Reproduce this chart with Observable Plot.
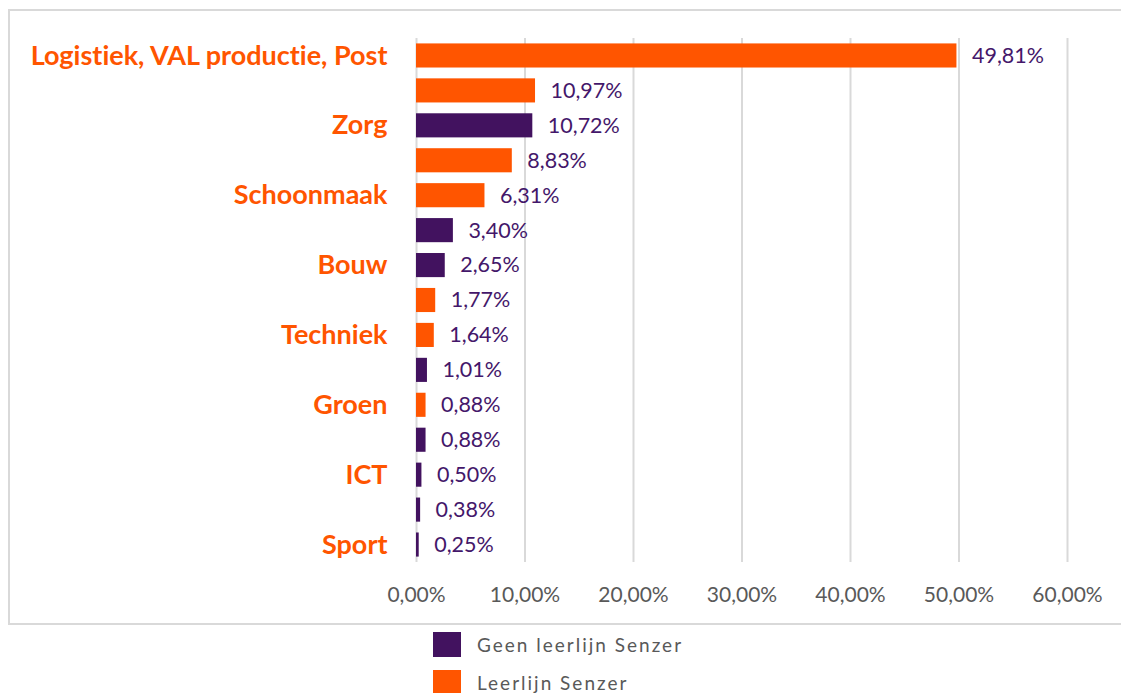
<!DOCTYPE html>
<html>
<head>
<meta charset="utf-8">
<script src="https://cdn.jsdelivr.net/npm/d3@7"></script>
<script src="https://cdn.jsdelivr.net/npm/@observablehq/plot@0.6"></script>
<style>
  html, body { margin: 0; padding: 0; background: #fff; overflow: hidden; }
  body { width: 1121px; height: 693px; position: relative; font-family: Lato, "Open Sans", sans-serif; font-variant-ligatures: none; }
  svg text { font-variant-ligatures: none; font-feature-settings: "liga" 0, "clig" 0; }
  #frame { position: absolute; left: 8px; top: 9px; width: 1140px; height: 616px; border: 2px solid #d9d9d9; box-sizing: border-box; }
  #chart { position: absolute; left: 0; top: 0; }
  #legend { position: absolute; left: 433px; top: 632px; font-size: 19px; color: #595959; letter-spacing: 2px; }
  .item { display: flex; align-items: center; height: 25px; margin-bottom: 13px; }
  .sw { width: 28px; height: 25px; margin-right: 16px; flex: none; }
</style>
</head>
<body>
<div id="frame"></div>
<div id="chart"></div>
<div id="legend"></div>
<script>
const tickLabels = ["Logistiek, VAL productie, Post", "", "Zorg", "", "Schoonmaak", "", "Bouw", "", "Techniek", "", "Groen", "", "ICT", "", "Sport"];
const values = [49.81, 10.97, 10.72, 8.83, 6.31, 3.40, 2.65, 1.77, 1.64, 1.01, 0.88, 0.88, 0.50, 0.38, 0.25];
const seriesOf = ["Leerlijn Senzer", "Leerlijn Senzer", "Geen leerlijn Senzer", "Leerlijn Senzer", "Leerlijn Senzer",
  "Geen leerlijn Senzer", "Geen leerlijn Senzer", "Leerlijn Senzer", "Leerlijn Senzer", "Geen leerlijn Senzer",
  "Leerlijn Senzer", "Geen leerlijn Senzer", "Geen leerlijn Senzer", "Geen leerlijn Senzer", "Geen leerlijn Senzer"];
const seriesNames = ["Geen leerlijn Senzer", "Leerlijn Senzer"];
const seriesColors = ["#42125f", "#ff5500"];
const xTicks = [0, 10, 20, 30, 40, 50, 60];

const data = values.map((v, i) => ({idx: i, value: v, series: seriesOf[i]}));
const fmt = d => d.toFixed(2).replace(".", ",") + "%";

const chart = Plot.plot({
  width: 1121,
  height: 625,
  marginLeft: 416,
  marginRight: 54,
  marginTop: 38,
  marginBottom: 63,
  style: {fontFamily: "Lato, 'Open Sans', sans-serif", background: "transparent"},
  x: {domain: [0, 60], label: null},
  y: {domain: d3.range(values.length), paddingInner: 0.31, paddingOuter: 0.155, round: false, label: null},
  color: {domain: seriesNames, range: seriesColors},
  marks: [
    Plot.gridX(xTicks, {stroke: "#d9d9d9", strokeWidth: 2, strokeOpacity: 1}),
    Plot.barX(data, {x: "value", y: "idx", fill: "series"}),
    Plot.text(data, {x: "value", y: "idx", text: d => fmt(d.value), textAnchor: "start", dx: 15, fill: "#44176a", fontSize: 21.5}),
    Plot.axisY({tickSize: 0, tickPadding: 29, tickFormat: i => tickLabels[i], color: "#ff5500", fontSize: 27, fontWeight: "bold", label: null}),
    Plot.axisX(xTicks, {tickSize: 0, tickPadding: 25, tickFormat: fmt, color: "#595959", fontSize: 21, label: null})
  ]
});
document.getElementById("chart").appendChild(chart);

const legend = document.getElementById("legend");
seriesNames.forEach((s, i) => {
  const item = document.createElement("div");
  item.className = "item";
  const sw = document.createElement("div");
  sw.className = "sw";
  sw.style.background = seriesColors[i];
  const t = document.createElement("span");
  t.textContent = s;
  item.appendChild(sw);
  item.appendChild(t);
  legend.appendChild(item);
});
</script>
</body>
</html>
